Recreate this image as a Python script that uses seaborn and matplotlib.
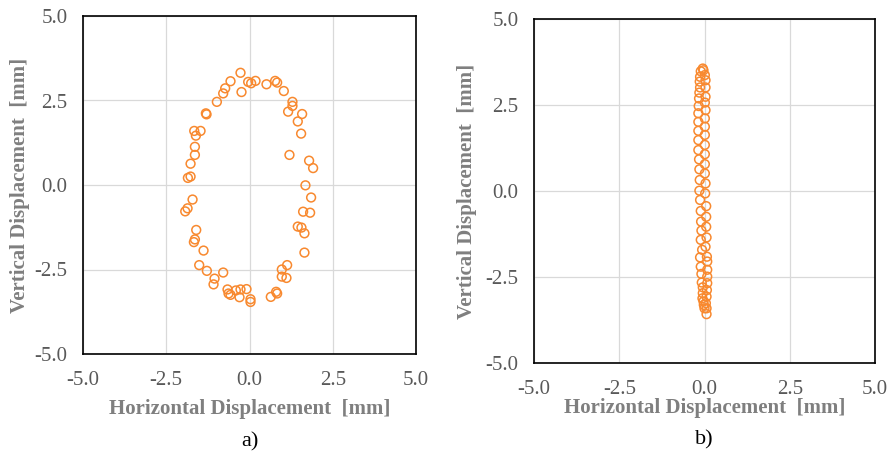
import numpy as np
import pandas as pd
import matplotlib
matplotlib.use("Agg")
import matplotlib.pyplot as plt
import seaborn as sns

# ---- Data: panel a) (orbit-like cloud) ----
a_x = [-0.27, -0.57, -0.73, -0.79, -0.98, -1.31, -1.29, -1.66, -1.47, -1.61,
       -1.64, -1.64, -1.77, -1.77, -1.85, -1.71, -1.86, -1.93, -1.60, -1.64,
       -1.67, -1.38, -1.51, -1.28, -1.05, -1.08, -0.79, -0.66, -0.63, -0.57,
       -0.41, -0.27, -0.09, -0.30, 0.03, 0.03, 0.64, 0.80, 0.83, 0.97,
       0.97, 1.11, 1.13, 1.65, 1.65, 1.56, 1.45, 1.61, 1.82, 1.85,
       1.68, 1.91, 1.79, 1.20, 1.55, 1.45, 1.58, 1.16, 1.29, 1.29,
       1.03, 0.83, 0.77, 0.51, 0.18, 0.05, -0.04, -0.24]
a_y = [3.32, 3.07, 2.86, 2.71, 2.46, 2.12, 2.09, 1.60, 1.60, 1.46,
       1.13, 0.89, 0.63, 0.25, 0.21, -0.43, -0.69, -0.78, -1.33, -1.61,
       -1.69, -1.94, -2.37, -2.54, -2.77, -2.94, -2.59, -3.09, -3.21, -3.25,
       -3.12, -3.09, -3.08, -3.32, -3.38, -3.46, -3.31, -3.16, -3.21, -2.50,
       -2.71, -2.75, -2.37, -2.00, -1.43, -1.26, -1.23, -0.79, -0.82, -0.37,
       -0.01, 0.50, 0.72, 0.89, 1.52, 1.88, 2.10, 2.17, 2.34, 2.46,
       2.78, 3.03, 3.08, 2.98, 3.08, 3.01, 3.05, 2.75]

# ---- Data: panel b) (nearly vertical trajectory) ----
b_x = [-0.05, -0.11, -0.13, -0.14, -0.13, -0.15, -0.16, -0.17, -0.18, -0.18,
       -0.18, -0.18, -0.18, -0.16, -0.15, -0.14, -0.15, -0.13, -0.11, -0.10,
       -0.09, -0.11, -0.07, -0.13, -0.11, -0.09, -0.08, -0.05, -0.05, -0.06,
       -0.03, -0.02, 0.00,
       -0.03, 0.01, 0.03, 0.03, 0.03, 0.01, 0.03, 0.01, 0.01, 0.01,
       0.01, 0.01, 0.01, 0.01, 0.03, 0.02, 0.05, 0.05, 0.05, 0.06,
       0.03, 0.07, 0.08, 0.08, 0.08, 0.08, 0.07, 0.06, 0.04, 0.06, 0.06]
b_y = [3.56, 3.48, 3.32, 3.18, 3.01, 2.86, 2.69, 2.47, 2.26, 2.01,
       1.75, 1.48, 1.19, 0.92, 0.63, 0.32, 0.01, -0.26, -0.58, -0.89,
       -1.15, -1.42, -1.71, -1.93, -2.20, -2.41, -2.66, -2.80, -2.97, -3.12,
       -3.21, -3.31, -3.41,
       3.51, 3.37, 3.22, 3.01, 2.74, 2.57, 2.35, 2.11, 1.87, 1.63,
       1.34, 1.07, 0.78, 0.51, 0.22, -0.07, -0.44, -0.75, -1.04, -1.35,
       -1.62, -1.91, -2.05, -2.29, -2.49, -2.68, -2.88, -3.07, -3.26, -3.41, -3.58]

ticks = [-5.0, -2.5, 0.0, 2.5, 5.0]
tick_labels = ["-5.0", "-2.5", "0.0", "2.5", "5.0"]
x_label = "Horizontal Displacement  [mm]"
y_label = "Vertical Displacement  [mm]"
captions = ["a)", "b)"]

sns.set_theme(style="white")
plt.rcParams['font.family'] = ['Liberation Serif', 'DejaVu Serif']

orange = "#F8892F"
gray_txt = "#7F7F7F"
tick_gray = "#595959"

fig = plt.figure(figsize=(8.92, 4.53), dpi=100)
ax_a = fig.add_axes([83/892, 1-354/453, (416-83)/892, (354-16)/453])
ax_b = fig.add_axes([534/892, 1-363/453, (875-534)/892, (363-19)/453])

dfa = pd.DataFrame({"x": a_x, "y": a_y})
dfb = pd.DataFrame({"x": b_x, "y": b_y})

panels = [
    (ax_a, dfa, captions[0], (-55/338), (-63/333), (250/892, 1-442/453)),
    (ax_b, dfb, captions[1], (-45/344), (-67/341), (704/892, 1-440/453)),
]

for ax, df, cap, xl_y, yl_x, cap_pos in panels:
    sns.scatterplot(data=df, x="x", y="y", ax=ax, marker="o", s=40,
                    facecolor="none", edgecolor=orange, linewidth=1.1, zorder=3)
    ax.set_xlim(-5, 5)
    ax.set_ylim(-5, 5)
    ax.set_xticks(ticks)
    ax.set_yticks(ticks)
    ax.set_xticklabels(tick_labels, fontsize=15, color=tick_gray)
    ax.set_yticklabels(tick_labels, fontsize=15, color=tick_gray)
    ax.grid(True, color="#D9D9D9", linewidth=0.9, zorder=0)
    ax.set_axisbelow(True)
    for sp in ax.spines.values():
        sp.set_color("#000000")
        sp.set_linewidth(1.2)
    ax.tick_params(axis="x", length=0, pad=12)
    ax.tick_params(axis="y", length=0, pad=11)
    ax.set_xlabel(x_label, fontsize=15, fontweight="bold", color=gray_txt)
    ax.set_ylabel(y_label, fontsize=15, fontweight="bold", color=gray_txt)
    ax.xaxis.set_label_coords(0.5, xl_y)
    ax.xaxis.label.set_va("center")
    ax.yaxis.set_label_coords(yl_x, 0.5)
    ax.yaxis.label.set_va("center")
    fig.text(cap_pos[0], cap_pos[1], cap, ha="center", va="center",
             fontsize=16, color="black")

fig.savefig("out.png", dpi=100)
